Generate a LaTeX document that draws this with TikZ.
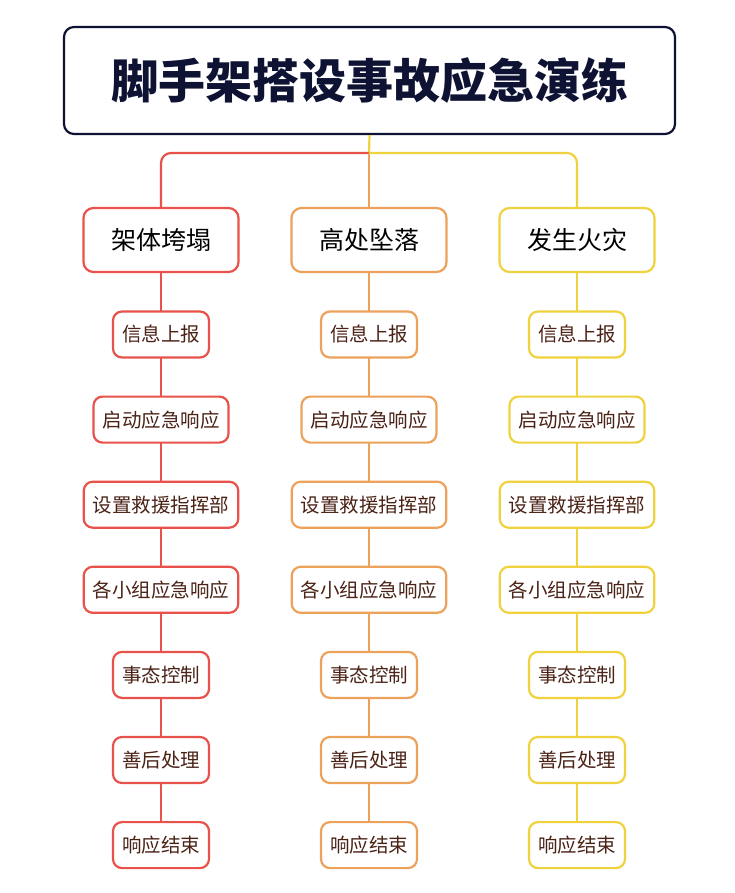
\documentclass[tikz,border=0pt]{standalone}
\usepackage{fontspec}
\setmainfont{Noto Sans CJK SC}
\begin{document}
\begin{tikzpicture}[x=1pt,y=-1pt,
 lw/.style={line width=2.2pt},
 sub/.style={draw=#1,lw,rounded corners=9pt,fill=white,minimum height=46pt,inner xsep=9pt,font=\fontsize{19.5}{21}\selectfont,text=cT,inner ysep=0pt},
 top/.style={draw=#1,lw,rounded corners=10pt,fill=white,minimum height=64pt,minimum width=155pt,font=\fontsize{25}{27}\selectfont},
 conn/.style={draw=#1,lw}]
\definecolor{cR}{HTML}{E8524A}
\definecolor{cO}{HTML}{EDA25C}
\definecolor{cY}{HTML}{EFD23E}
\definecolor{cN}{HTML}{0E1233}
\definecolor{cT}{HTML}{4A2216}
\useasboundingbox (0,0) rectangle (734,893);
\node[draw=cN,line width=2.2pt,rounded corners=10pt,minimum width=611pt,minimum height=107pt,font=\fontsize{47}{50}\selectfont\bfseries,text=cN] (T) at (369.5,80.5) {脚手架搭设事故应急演练};
\coordinate (J) at (369,153);
\draw[conn=cY] (T.south) -- (J);
\draw[conn=cR,rounded corners=10pt] (J) -- (161,153) -- (161,208);
\draw[conn=cY,rounded corners=10pt] (J) -- (577,153) -- (577,208);
\draw[conn=cO] (J) -- (369,208);
\foreach \c/\x/\t/\n in {cR/161/架体垮塌/a,cO/369/高处坠落/b,cY/577/发生火灾/c}{
 \draw[conn=\c] (\x,240) -- (\x,845);
 \node[top=\c] (\n0) at (\x,240) {\t};
 \foreach \s [count=\i] in {信息上报,启动应急响应,设置救援指挥部,各小组应急响应,事态控制,善后处理,响应结束}{
  \node[sub=\c] (\n\i) at (\x,{334.5+85.1*(\i-1)}) {\s};
 }
}
\end{tikzpicture}
\end{document}
